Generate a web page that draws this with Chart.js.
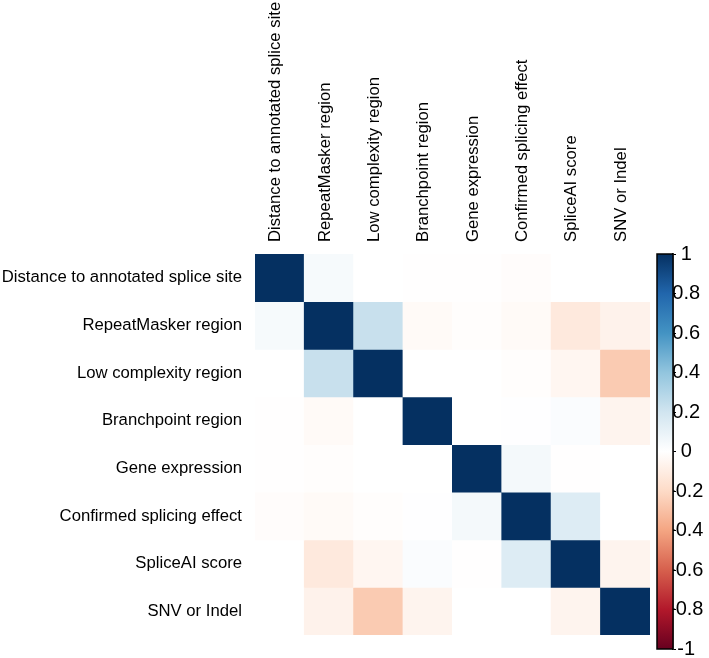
<!DOCTYPE html>
<html>
<head>
<meta charset="utf-8">
<script src="https://cdn.jsdelivr.net/npm/chart.js@4/dist/chart.umd.min.js"></script>
<style>
  html, body { margin: 0; padding: 0; background: #fff; }
  #wrap { position: relative; width: 709px; height: 658px; }
  canvas { position: absolute; left: 0; top: 0; }
</style>
</head>
<body>
<div id="wrap">
  <canvas id="heat" width="709" height="658"></canvas>
  <canvas id="bar" width="709" height="658"></canvas>
</div>
<script>
const variables = [
  "Distance to annotated splice site",
  "RepeatMasker region",
  "Low complexity region",
  "Branchpoint region",
  "Gene expression",
  "Confirmed splicing effect",
  "SpliceAI score",
  "SNV or Indel"
];

// correlation matrix rows
const rowDistance     = [ 1.00,  0.04,  0.00, -0.005, -0.005, -0.015,  0.00,  0.00];
const rowRepeat       = [ 0.04,  1.00,  0.23, -0.03,  -0.01,  -0.03,  -0.12, -0.07];
const rowLowComplex   = [ 0.00,  0.23,  1.00,  0.00,   0.00,  -0.01,  -0.05, -0.26];
const rowBranchpoint  = [-0.005, -0.03, 0.00,  1.00,   0.00,   0.005,  0.02, -0.06];
const rowGeneExpr     = [-0.005, -0.01, 0.00,  0.00,   1.00,   0.05,  -0.005, 0.00];
const rowConfirmed    = [-0.015, -0.03, -0.01, 0.005,  0.05,   1.00,   0.15,  0.00];
const rowSpliceAI     = [ 0.00, -0.12, -0.05,  0.02,  -0.005,  0.15,   1.00, -0.06];
const rowSNV          = [ 0.00, -0.07, -0.26, -0.06,   0.00,   0.00,  -0.06,  1.00];
const corr = [rowDistance, rowRepeat, rowLowComplex, rowBranchpoint, rowGeneExpr, rowConfirmed, rowSpliceAI, rowSNV];

const colorbarTicks = [-1, -0.8, -0.6, -0.4, -0.2, 0, 0.2, 0.4, 0.6, 0.8, 1];
const palette = ["#67001F", "#B2182B", "#D6604D", "#F4A582", "#FDDBC7", "#FFFFFF",
                 "#D1E5F0", "#92C5DE", "#4393C3", "#2166AC", "#053061"];

function hexToRgb(h) {
  return [parseInt(h.slice(1,3),16), parseInt(h.slice(3,5),16), parseInt(h.slice(5,7),16)];
}
function colorFor(v) {
  let p = (v + 1) * 5;
  let i = Math.floor(p);
  if (i >= palette.length - 1) i = palette.length - 2;
  if (i < 0) i = 0;
  const t = Math.min(1, Math.max(0, p - i));
  const a = hexToRgb(palette[i]), b = hexToRgb(palette[i+1]);
  const c = a.map((x, k) => Math.round(x + (b[k] - x) * t));
  return `rgb(${c[0]},${c[1]},${c[2]})`;
}

const FONT = "'Liberation Sans', Arial, Helvetica, sans-serif";

const datasets = corr.map((row, r) => ({
  label: variables[r],
  data: variables.map(() => [r, r + 1]),
  backgroundColor: row.map(colorFor),
  borderWidth: 0,
  barPercentage: 1,
  categoryPercentage: 1,
  grouped: false,
  inflateAmount: 0.5
}));

new Chart(document.getElementById('heat'), {
  type: 'bar',
  data: { labels: variables, datasets },
  options: {
    responsive: false,
    animation: false,
    events: [],
    layout: { padding: { left: 0, top: 0, right: 59, bottom: 9 } },
    plugins: { legend: { display: false }, tooltip: { enabled: false } },
    scales: {
      x: {
        position: 'top',
        grid: { display: false, drawTicks: false },
        border: { display: false },
        ticks: {
          autoSkip: false, minRotation: 90, maxRotation: 90, padding: 12,
          labelOffset: 16,
          color: '#000', font: { family: FONT, size: 16.7 }
        },
        afterFit: (s) => { s.height = 254; }
      },
      y: {
        type: 'linear', min: 0, max: 8, reverse: true,
        grid: { display: false, drawTicks: false },
        border: { display: false },
        afterBuildTicks: (s) => { s.ticks = variables.map((_, i) => ({ value: i + 0.5 })); },
        ticks: {
          autoSkip: false, padding: 13, color: '#000',
          font: { family: FONT, size: 16.7 },
          callback: (v, i) => variables[i]
        },
        afterFit: (s) => { s.width = 255; }
      }
    }
  }
});

const gradientPlugin = {
  id: 'gradientBar',
  beforeDatasetsDraw(chart) {
    const { ctx, chartArea: a } = chart;
    const g = ctx.createLinearGradient(0, a.bottom, 0, a.top);
    palette.forEach((c, i) => g.addColorStop(i / (palette.length - 1), c));
    ctx.save();
    ctx.fillStyle = g;
    ctx.fillRect(a.left, a.top, a.right - a.left, a.bottom - a.top);
    ctx.restore();
  },
  afterDraw(chart) {
    const { ctx, chartArea: a } = chart;
    ctx.save();
    ctx.strokeStyle = '#000';
    ctx.lineWidth = 1.5;
    ctx.strokeRect(a.left, a.top, a.right - a.left, a.bottom - a.top);
    ctx.restore();
  }
};

new Chart(document.getElementById('bar'), {
  type: 'scatter',
  data: { datasets: [] },
  options: {
    responsive: false,
    animation: false,
    events: [],
    layout: { padding: { left: 657, top: 254, right: 0, bottom: 9 } },
    plugins: { legend: { display: false }, tooltip: { enabled: false } },
    scales: {
      x: { display: false, min: 0, max: 1 },
      y: {
        position: 'right', min: -1, max: 1,
        grid: { drawOnChartArea: false, drawTicks: true, tickLength: 3, color: '#000', lineWidth: 1 },
        border: { display: true, color: '#000', width: 1.5 },
        afterBuildTicks: (s) => { s.ticks = colorbarTicks.map(v => ({ value: v })); },
        ticks: {
          crossAlign: 'center', padding: -7, color: '#000',
          font: { family: FONT, size: 20 },
          callback: (v, i) => String(colorbarTicks[i])
        },
        afterFit: (s) => { s.width = 36; }
      }
    }
  },
  plugins: [gradientPlugin]
});
</script>
</body>
</html>
